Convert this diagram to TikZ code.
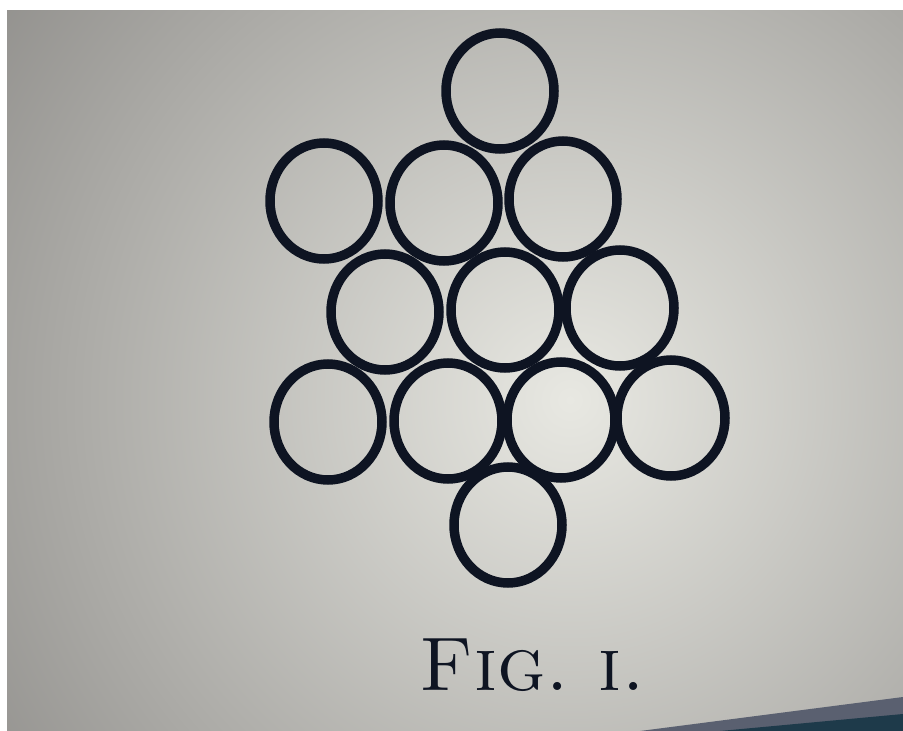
\documentclass[tikz,border=0pt]{standalone}
\usetikzlibrary{shapes.geometric}
\definecolor{ink}{HTML}{0E1422}
\definecolor{paperin}{HTML}{E8E8E2}
\definecolor{paperout}{HTML}{6E6C6A}
\definecolor{bandA}{HTML}{5A6070}
\definecolor{bandB}{HTML}{1E3A4A}
\tikzset{
  ring/.style={ellipse, draw=ink, line width=9.5pt, minimum width=108pt, minimum height=116pt, inner sep=0pt},
  caption/.style={text=ink, font=\fontsize{76}{76}\selectfont, inner sep=0pt, anchor=base}
}
\begin{document}
\begin{tikzpicture}[x=1pt,y=-1pt]
\useasboundingbox (0,0) rectangle (903,731);
\fill[white] (0,0) rectangle (903,731);
\begin{scope}
  \clip (7,10) rectangle (903,731);
  \fill[paperout] (7,10) rectangle (903,731);
  \shade[inner color=paperin, outer color=paperout] (570,400) circle (1000);
  \fill[bandA] (640,731) -- (903,697) -- (903,731) -- cycle;
  \fill[bandB] (720,731) -- (903,714) -- (903,731) -- cycle;
\end{scope}
% row 0
\node[ring] (c01) at (500,91) {};
% row 1
\node[ring] (c11) at (324,201) {};
\node[ring] (c12) at (444,203) {};
\node[ring] (c13) at (563,199) {};
% row 2
\node[ring] (c21) at (385,312) {};
\node[ring] (c22) at (505,310) {};
\node[ring] (c23) at (620,308) {};
% row 3
\node[ring] (c31) at (328,422) {};
\node[ring] (c32) at (448,421) {};
\node[ring] (c33) at (561,420) {};
\node[ring] (c34) at (671,418) {};
% row 4
\node[ring] (c41) at (508,525) {};
% caption
\node[caption] (cap) at (533,690) {\textsc{Fig.\ i.}};
\end{tikzpicture}
\end{document}
